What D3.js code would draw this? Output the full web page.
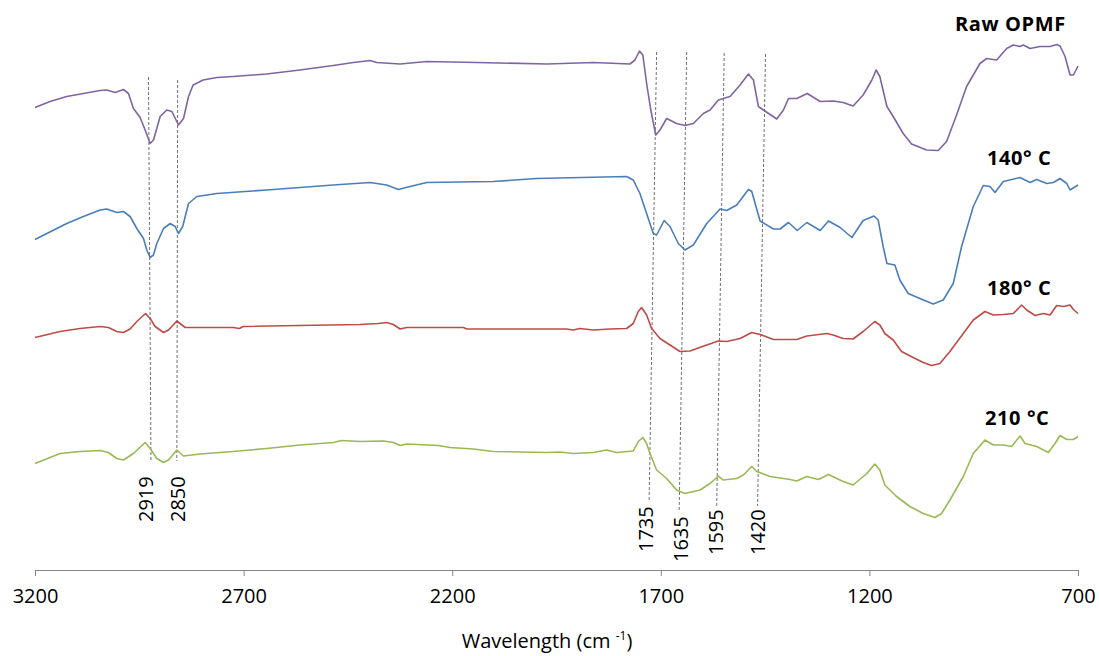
<!DOCTYPE html>
<html><head><meta charset="utf-8">
<script src="https://cdn.jsdelivr.net/npm/d3@7"></script>
<style>body{margin:0;background:#fff;} svg{display:block;font-family:"Open Sans",sans-serif;}</style>
</head><body><svg id="chart" width="1099" height="656"></svg>
<script>
// ---- data (wavenumber in cm-1, arbitrary offset transmittance units) ----
const xTicks = [3200, 2700, 2200, 1700, 1200, 700];
const seriesNames = ["Raw OPMF", "140\u00B0 C", "180\u00B0 C", "210 \u00B0C"];

const rawWn = [3200,3164,3124,3084,3044,3028,3008,2988,2976,2964,2948,2936,2924,2916,2900,2884,2872,2856,2844,2832,2821,2797,2764,2725,2645,2565,2485,2437,2397,2381,2325,2261,2141,1973,1862,1774,1762,1751,1743,1734,1724,1712,1702,1686,1662,1642,1622,1598,1582,1562,1534,1510,1490,1478,1466,1454,1422,1406,1394,1374,1349,1318,1287,1263,1239,1215,1194,1184,1175,1158,1143,1119,1099,1063,1035,1015,991,967,935,919,895,871,855,839,831,815,791,767,751,743,731,719,711,700];
const rawVal = [92.5,93.7,94.7,95.3,95.9,96.0,95.5,96.1,95.3,92.3,90.5,88.0,85.3,86.0,90.7,92.0,91.7,89.0,90.3,94.7,97.0,98.0,98.5,98.7,99.2,100.0,100.9,101.5,101.9,101.5,101.2,101.7,101.5,101.2,101.5,101.2,102.0,103.8,103.0,97.3,92.0,87.0,88.0,90.3,89.3,88.9,89.3,91.3,92.0,94.0,94.7,97.0,99.2,98.0,92.7,92.0,90.2,92.0,94.3,94.3,95.3,93.7,93.8,93.5,92.8,95.0,98.0,100.0,98.7,92.7,90.7,87.3,85.2,84.0,83.9,85.7,91.0,96.7,101.3,102.3,102.0,104.3,105.0,104.7,105.0,104.3,104.7,104.7,105.1,104.8,102.7,99.0,99.0,100.8];

const t140Wn = [3200,3124,3084,3044,3028,3004,2988,2972,2956,2940,2932,2924,2916,2908,2892,2876,2864,2856,2846,2832,2812,2764,2645,2485,2397,2357,2329,2301,2261,2102,1998,1782,1766,1750,1734,1718,1710,1692,1678,1658,1642,1622,1590,1558,1542,1518,1490,1482,1462,1430,1414,1394,1373,1350,1318,1298,1270,1242,1215,1189,1179,1167,1158,1139,1127,1107,1079,1047,1023,999,979,951,927,911,899,879,839,815,799,775,759,743,727,719,700];
const t140Val = [66.1,69.3,70.7,72.0,72.2,71.5,71.7,70.7,68.3,66.3,64.0,62.5,63.0,65.3,68.3,69.3,68.7,67.3,68.7,73.3,74.7,75.3,76.0,77.0,77.5,77.0,76.1,76.7,77.5,77.7,78.3,78.7,78.0,75.3,71.3,67.3,67.0,69.9,68.7,65.3,64.0,65.0,69.3,72.2,71.9,73.0,76.1,75.7,69.8,68.2,68.2,69.5,67.9,69.5,67.9,69.8,68.5,66.5,69.9,70.8,70.0,64.7,61.3,61.0,58.0,55.3,54.3,53.2,54.0,57.3,64.7,72.7,76.9,76.7,75.5,77.7,78.5,77.5,78.1,77.3,77.5,78.3,77.3,76.0,77.0];

const t180Wn = [3200,3140,3092,3044,3024,3004,2988,2972,2956,2935,2924,2912,2892,2880,2860,2840,2725,2710,2701,2421,2377,2357,2341,2325,2309,2173,2165,1926,1910,1894,1862,1822,1782,1766,1754,1746,1734,1722,1702,1678,1654,1630,1590,1562,1542,1510,1482,1462,1430,1374,1350,1302,1287,1263,1239,1215,1187,1175,1163,1143,1123,1095,1071,1051,1031,1007,975,951,923,903,879,855,835,823,803,783,767,751,735,719,711,700];
const t180Val = [46.5,47.7,48.3,48.7,48.5,47.7,47.5,48.2,49.7,51.3,50.3,48.7,47.5,48.0,49.8,48.5,48.5,48.3,48.7,49.1,49.3,49.5,49.1,48.2,48.5,48.5,48.2,48.2,48.0,48.3,48.0,48.2,48.3,49.3,51.7,52.5,51.0,48.3,46.3,45.0,43.7,43.8,45.0,45.8,45.7,46.3,47.5,47.1,46.1,46.1,46.8,47.3,47.0,46.3,46.2,47.7,49.7,49.0,47.3,46.0,43.7,42.5,41.5,40.9,41.3,43.7,47.3,50.0,51.7,51.0,51.1,51.3,53.0,52.0,50.9,51.3,51.0,52.9,52.7,53.0,52.1,51.3];

const t210Wn = [3200,3140,3092,3044,3024,3004,2988,2964,2936,2924,2908,2892,2880,2860,2844,2804,2725,2645,2565,2485,2465,2421,2365,2341,2325,2309,2233,2205,2149,2102,1973,1942,1910,1862,1830,1806,1766,1754,1743,1734,1726,1710,1686,1662,1642,1606,1582,1562,1550,1518,1502,1482,1470,1438,1390,1374,1350,1322,1298,1263,1239,1206,1187,1175,1163,1135,1103,1071,1043,1027,1007,975,951,923,903,879,859,839,827,799,771,755,743,727,711,700];
const t210Val = [21.3,23.3,23.7,23.9,23.5,22.3,22.0,23.3,25.5,24.3,22.3,21.5,22.0,24.0,22.8,23.2,23.7,24.3,25.0,25.5,25.9,25.7,25.8,25.5,24.9,25.2,24.9,24.5,24.2,23.7,23.5,23.6,23.3,23.5,24.0,23.5,23.8,25.7,26.5,25.3,23.3,20.0,18.3,16.0,15.3,16.0,17.3,18.8,18.0,18.3,19.0,20.7,19.7,18.7,18.1,17.8,18.7,18.1,19.1,17.7,17.0,19.3,21.2,20.0,17.0,14.7,12.7,11.3,10.5,11.3,14.0,18.7,23.3,26.0,25.0,25.0,24.7,26.8,25.3,24.7,23.5,25.3,26.9,26.1,26.1,26.7];

// peak annotations (hand-drawn guide lines in the original)
const peakLabels = ["2919", "2850", "1735", "1635", "1595", "1420"];
const peakTopWn = [2928, 2858, 1710, 1638, 1548, 1449];
const peakTopVal = [98.6, 98.0, 103.6, 103.6, 103.4, 103.2];
const peakBottomWn = [2922, 2860, 1728, 1656, 1566, 1468];
const peakBottomVal = [21.8, 21.8, 13.6, 11.6, 12.6, 12.8];
const peakLabelWn = [2935, 2858, 1737, 1653, 1569, 1468];
const peakLabelVal = [9.6, 9.6, 3.6, 1.6, 3.0, 3.0];

// ---- drawing ----
const svg = d3.select("#chart");
const x = d3.scaleLinear().domain([3200, 700]).range([35, 1078]);
const y = d3.scaleLinear().domain([0, 108]).range([570, 30]);

const colors = ["#8064A2", "#4A7EBB", "#BE4B48", "#98B954"];
const seriesData = [
  d3.zip(rawWn, rawVal),
  d3.zip(t140Wn, t140Val),
  d3.zip(t180Wn, t180Val),
  d3.zip(t210Wn, t210Val)
];

const line = d3.line().x(d => x(d[0])).y(d => y(d[1]));

// guide lines
const guides = svg.append("g");
peakLabels.forEach((lab, i) => {
  guides.append("line")
    .attr("x1", x(peakTopWn[i])).attr("y1", y(peakTopVal[i]))
    .attr("x2", x(peakBottomWn[i])).attr("y2", y(peakBottomVal[i]))
    .attr("stroke", "#6f6f6f").attr("stroke-width", 1)
    .attr("stroke-dasharray", "3,2");
  guides.append("text")
    .attr("transform", `translate(${x(peakLabelWn[i])},${y(peakLabelVal[i])}) rotate(-90)`)
    .attr("dy", "0.36em")
    .attr("text-anchor", "start")
    .attr("font-size", 20)
    .attr("fill", "#000")
    .text(lab);
});

// spectra
svg.append("g").selectAll("path").data(seriesData).join("path")
  .attr("d", line)
  .attr("fill", "none")
  .attr("stroke", (d, i) => colors[i])
  .attr("stroke-width", 1.6)
  .attr("stroke-linejoin", "round");

// series labels
const labelPos = [[955, 31], [987, 165], [987, 295], [985, 425]];
svg.append("g").selectAll("text").data(seriesNames).join("text")
  .attr("x", (d, i) => labelPos[i][0])
  .attr("y", (d, i) => labelPos[i][1])
  .attr("font-size", 20).attr("font-weight", "bold").attr("fill", "#000")
  .attr("letter-spacing", 0.6)
  .text(d => d);

// x axis
const axis = d3.axisBottom(x).tickValues(xTicks).tickFormat(d3.format("d"))
  .tickSize(6).tickSizeOuter(0).tickPadding(13);
const gx = svg.append("g").attr("transform", "translate(0,570)").call(axis);
gx.select(".domain").attr("stroke", "#868686");
gx.selectAll(".tick line").attr("stroke", "#868686");
gx.selectAll(".tick text").attr("font-size", 20).attr("font-family", "Open Sans").attr("fill", "#000");

// axis title
const title = svg.append("text").attr("x", 547).attr("y", 648)
  .attr("text-anchor", "middle").attr("font-size", 20).attr("fill", "#000");
title.append("tspan").text("Wavelength (cm ");
title.append("tspan").attr("font-size", 12).attr("dy", -8).text("-1");
title.append("tspan").attr("dy", 8).text(")");
</script>
</body></html>
